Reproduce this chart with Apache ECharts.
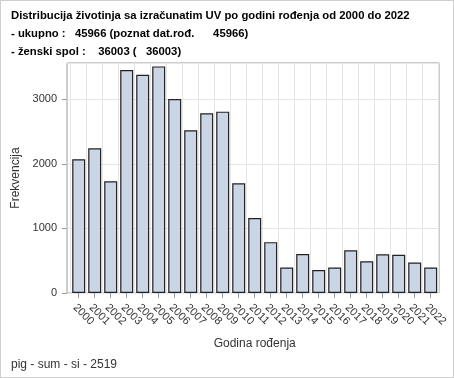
<!DOCTYPE html>
<html>
<head>
<meta charset="utf-8">
<script src="https://cdn.jsdelivr.net/npm/echarts@6/dist/echarts.min.js"></script>
<style>
  html, body { margin: 0; padding: 0; background: #fff; }
  #chart { width: 454px; height: 378px; box-sizing: border-box; border: 1px solid #cfcfcf; }
</style>
</head>
<body>
<div id="chart"></div>
<script>
const years = ["2000", "2001", "2002", "2003", "2004", "2005", "2006", "2007", "2008", "2009", "2010", "2011",
  "2012", "2013", "2014", "2015", "2016", "2017", "2018", "2019", "2020", "2021", "2022"];
const counts = [2070, 2239, 1728, 3451, 3379, 3507, 3001, 2520, 2781, 2807, 1698, 1161,
  787, 394, 603, 357, 394, 660, 491, 598, 593, 471, 394];
const yTicks = [0, 1000, 2000, 3000];

const titleLines = [
  "Distribucija životinja sa izračunatim UV po godini rođenja od 2000 do 2022",
  "- ukupno :   45966 (poznat dat.rođ.      45966)",
  "- ženski spol :    36003 (   36003)",
];
const footer = "pig - sum - si - 2519";

const FONT = "Liberation Sans, Arial, sans-serif";
const TEXT = "#333";
const FRAME = "#9a9a9a";
const GRIDLINE = "#e6e6e6";
const Y_MAX = 3560;

const chart = echarts.init(document.getElementById("chart"), null, { renderer: "canvas" });

chart.setOption({
  animation: false,
  textStyle: { fontFamily: FONT },
  title: [
    {
      text: titleLines.join("\n"),
      left: 10, top: 6, padding: 0,
      textStyle: { fontFamily: FONT, fontSize: 11.3, fontWeight: "bold", color: "#000", lineHeight: 18 },
    },
    {
      text: footer,
      left: 10, top: 357, padding: 0,
      textStyle: { fontFamily: FONT, fontSize: 12, fontWeight: "normal", color: TEXT, lineHeight: 14 },
    },
  ],
  // grid 0: frame, y axis and horizontal lines; grid 1: the bars (narrower, as SAS pads the band)
  grid: [
    { left: 66, right: 14, top: 62, bottom: 84, show: true, borderColor: FRAME, borderWidth: 1, backgroundColor: "transparent" },
    { left: 69.7, width: 368, top: 62, bottom: 84 },
  ],
  xAxis: [
    { gridIndex: 0, type: "value", show: false, min: 0, max: 1 },
    {
      gridIndex: 1,
      type: "category",
      data: years,
      name: "Godina rođenja",
      nameLocation: "middle",
      nameGap: 45,
      nameTextStyle: { fontSize: 12, color: TEXT },
      axisLine: { show: false },
      axisTick: { show: true, alignWithLabel: true, length: 5, lineStyle: { color: FRAME } },
      axisLabel: { rotate: -45, fontSize: 11, color: TEXT, margin: 9, interval: 0, verticalAlign: "top" },
      splitLine: { show: true, interval: 0, lineStyle: { color: GRIDLINE } },
    },
  ],
  yAxis: [
    {
      gridIndex: 0,
      type: "value",
      min: 0, max: Y_MAX, interval: 1000,
      name: "Frekvencija",
      nameLocation: "middle",
      nameGap: 39,
      nameTextStyle: { fontSize: 12, color: TEXT },
      axisLine: { show: false },
      axisTick: { show: true, length: 5, lineStyle: { color: FRAME } },
      axisLabel: {
        fontSize: 11, color: TEXT, margin: 10, showMaxLabel: false,
        formatter: (v) => (yTicks.includes(v) ? String(v) : ""),
      },
      splitLine: { show: true, lineStyle: { color: GRIDLINE } },
    },
    { gridIndex: 1, type: "value", show: false, min: 0, max: Y_MAX },
  ],
  series: [
    {
      type: "bar",
      xAxisIndex: 1,
      yAxisIndex: 1,
      data: counts,
      barWidth: 13,
      itemStyle: { color: "#cad5e5", borderColor: "#222", borderWidth: 1.2 },
      emphasis: { disabled: true },
    },
  ],
});
</script>
</body>
</html>
